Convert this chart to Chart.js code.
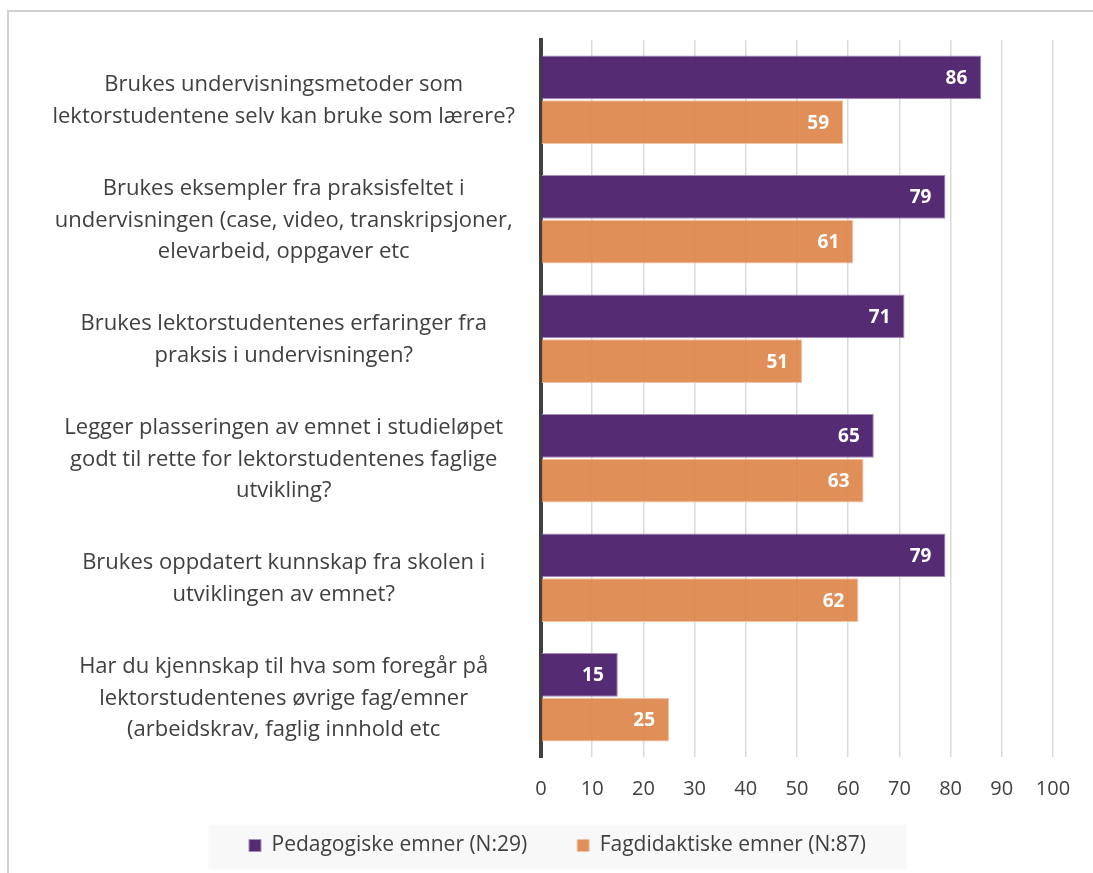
<!DOCTYPE html>
<html>
<head>
<meta charset="utf-8">
<script src="https://cdn.jsdelivr.net/npm/chart.js@4.4.0/dist/chart.umd.min.js"></script>
<style>
  html, body { margin: 0; padding: 0; background: #fff; }
  #ramme { position: absolute; left: 7px; top: 10px; width: 1200px; height: 1000px;
           border-left: 2px solid #d0d0d0; border-top: 2px solid #d0d0d0; }
  #wrap { position: absolute; left: 0; top: 0; width: 1093px; height: 873px; }
</style>
</head>
<body>
<div id="ramme"></div>
<div id="wrap"><canvas id="graf"></canvas></div>
<script>
// Spørsmål (kategorier)
const sporsmal = [
    ["Brukes undervisningsmetoder som", "lektorstudentene selv kan bruke som lærere?"],
    ["Brukes eksempler fra praksisfeltet i", "undervisningen (case, video, transkripsjoner,", "elevarbeid, oppgaver etc"],
    ["Brukes lektorstudentenes erfaringer fra", "praksis i undervisningen?"],
    ["Legger plasseringen av emnet i studieløpet", "godt til rette for lektorstudentenes faglige", "utvikling?"],
    ["Brukes oppdatert kunnskap fra skolen i", "utviklingen av emnet?"],
    ["Har du kjennskap til hva som foregår på", "lektorstudentenes øvrige fag/emner", "(arbeidskrav, faglig innhold etc"]
];

// Verdier
const pedagogiske = [86, 79, 71, 65, 79, 15];
const fagdidaktiske = [59, 61, 51, 63, 62, 25];

const serieNavn = ["Pedagogiske emner (N:29)", "Fagdidaktiske emner (N:87)"];
const akseTicks = [0, 10, 20, 30, 40, 50, 60, 70, 80, 90, 100];

const tekstFarge = '#404040';
const font = 'Open Sans';
const legendPadding = 50;

// Verdier inne i stolpene
const verdiEtiketter = {
    id: 'verdiEtiketter',
    afterDatasetsDraw(chart) {
        const ctx = chart.ctx;
        ctx.save();
        ctx.font = `bold 19px ${font}`;
        ctx.fillStyle = '#ffffff';
        ctx.textAlign = 'right';
        ctx.textBaseline = 'middle';
        chart.data.datasets.forEach((ds, i) => {
            chart.getDatasetMeta(i).data.forEach((bar, j) => {
                ctx.fillText(ds.data[j], bar.x - 14, bar.y + 1);
            });
        });
        ctx.restore();
    }
};

// Legenden: lavere høyde i layouten, flyttes litt, grå bakgrunn
const legendJustering = {
    id: 'legendJustering',
    beforeLayout(chart) {
        const lg = chart.legend;
        if (!lg._fitPatched) {
            const origFit = lg.fit;
            lg.fit = function () {
                origFit.call(this);
                this.height = 62;
            };
            lg._fitPatched = true;
        }
    },
    afterLayout(chart) {
        const lg = chart.legend;
        lg.top -= 18;
        lg.left += 11;
        lg.right += 11;
    },
    beforeDraw(chart) {
        const lg = chart.legend;
        const midtX = (lg.left + lg.right) / 2;
        const midtY = lg.top + legendPadding + 12.6;
        const ctx = chart.ctx;
        ctx.save();
        ctx.fillStyle = '#f8f8f8';
        ctx.fillRect(midtX - 349, midtY - 23, 698, 45);
        ctx.restore();
    }
};

new Chart(document.getElementById('graf'), {
    type: 'bar',
    data: {
        labels: sporsmal,
        datasets: [
            {
                label: serieNavn[0],
                data: pedagogiske,
                backgroundColor: 'rgba(80, 36, 111, 0.97)',
                borderColor: '#a58cbd',
                borderWidth: 1,
                barPercentage: 0.98,
                categoryPercentage: 0.75
            },
            {
                label: serieNavn[1],
                data: fagdidaktiske,
                backgroundColor: 'rgba(222, 134, 74, 0.92)',
                borderColor: '#f2c4a3',
                borderWidth: 1,
                barPercentage: 0.98,
                categoryPercentage: 0.75
            }
        ]
    },
    options: {
        indexAxis: 'y',
        responsive: true,
        maintainAspectRatio: false,
        animation: false,
        layout: { padding: { left: 40, right: 40, top: 40, bottom: 8 } },
        scales: {
            x: {
                min: 0,
                max: 100,
                afterBuildTicks(axis) { axis.ticks = akseTicks.map(v => ({ value: v })); },
                grid: { color: '#d9d9d9', lineWidth: 1.5, drawTicks: false },
                border: { display: false },
                ticks: { color: tekstFarge, font: { family: font, size: 20 }, padding: 20 },
                afterFit(axis) { axis.height = 46; }
            },
            y: {
                grid: { display: false, drawTicks: false },
                border: { display: true, color: '#404040', width: 4 },
                ticks: {
                    color: tekstFarge,
                    font: { family: font, size: 22, lineHeight: 1.45 },
                    crossAlign: 'center',
                    padding: 26,
                    labelOffset: 1
                },
                afterFit(axis) {
                    axis.width = 501;
                    axis.paddingTop = 0;
                    axis.paddingBottom = 0;
                }
            }
        },
        plugins: {
            legend: {
                position: 'bottom',
                labels: {
                    color: tekstFarge,
                    font: { family: font, size: 21 },
                    boxWidth: 12,
                    boxHeight: 12,
                    padding: legendPadding
                }
            },
            tooltip: { enabled: false }
        }
    },
    plugins: [verdiEtiketter, legendJustering]
});
</script>
</body>
</html>
